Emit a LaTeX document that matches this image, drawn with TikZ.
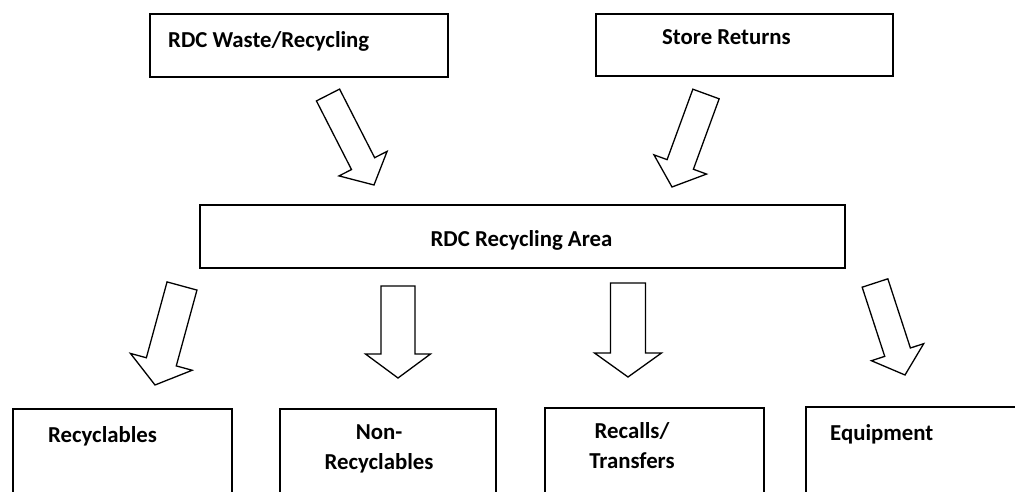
\documentclass[tikz,border=0pt]{standalone}
\usepackage{fontspec}
\setmainfont{Carlito}
\usetikzlibrary{calc}

% hollow block arrow from tail coordinate #1 to tip coordinate #2
\newcommand\blockarrow[4]{%
  \draw[hollow] let \p1=($(#2)-(#1)$), \n1={atan2(\y1,\x1)}, \n2={veclen(\x1,\y1)} in
    [shift={(#1)},rotate=\n1]
    (0pt,-#3) -- (\n2-24pt,-#3) -- (\n2-24pt,-#4) -- (\n2,0pt)
    -- (\n2-24pt,#4) -- (\n2-24pt,#3) -- (0pt,#3) -- cycle;}

\begin{document}
\begin{tikzpicture}[x=1pt,y=-1pt,
  box/.style={draw,line width=1.7pt,anchor=north west,inner sep=0pt},
  lbl/.style={font=\bfseries\fontsize{22.8}{30}\selectfont,inner sep=0pt},
  hollow/.style={draw,line width=1.3pt,line join=miter,fill=white}]
\useasboundingbox (0,0) rectangle (1015,491);
% boxes
\node[box,minimum width=298pt,minimum height=63pt] (waste) at (149,13) {};
\node[box,minimum width=297pt,minimum height=62pt] (store) at (595,13) {};
\node[box,minimum width=645pt,minimum height=63pt] (area) at (199,204) {};
\node[box,minimum width=219pt,minimum height=86pt] (recyc) at (12,408) {};
\node[box,minimum width=216pt,minimum height=86pt] (nonrec) at (279,408) {};
\node[box,minimum width=219pt,minimum height=87pt] (recall) at (544,407) {};
\node[box,minimum width=230pt,minimum height=88pt] (equip) at (805,406) {};
% labels
\node[lbl,anchor=base west] (wastelbl) at (168,47) {RDC Waste/Recycling};
\node[lbl,anchor=base west] (storelbl) at (662,44.5) {Store Returns};
\node[lbl,anchor=base] (arealbl) at (521.5,246) {RDC Recycling Area};
\node[lbl,anchor=base west] (recyclbl) at (48,442) {Recyclables};
\node[lbl,anchor=base,align=center] (nonreclbl) at (379,469) {Non-\\Recyclables};
\node[lbl,anchor=base,align=center] (recalllbl) at (632,468) {Recalls/\\Transfers};
\node[lbl,anchor=base west] (equiplbl) at (830,440) {Equipment};
% arrows
\coordinate (t1) at (328,95);  \coordinate (h1) at (374,185);
\coordinate (t2) at (706,94);  \coordinate (h2) at (672,187);
\coordinate (t3) at (182,286); \coordinate (h3) at (155,385);
\coordinate (t4) at (398,286); \coordinate (h4) at (398,378);
\coordinate (t5) at (628,283); \coordinate (h5) at (628,377);
\coordinate (t6) at (875,283); \coordinate (h6) at (905,375);
\blockarrow{t1}{h1}{13pt}{27pt}
\blockarrow{t2}{h2}{14pt}{28pt}
\blockarrow{t3}{h3}{15.5pt}{32pt}
\blockarrow{t4}{h4}{17pt}{32.5pt}
\blockarrow{t5}{h5}{17.5pt}{33.5pt}
\blockarrow{t6}{h6}{13.5pt}{27.5pt}
\end{tikzpicture}
\end{document}
